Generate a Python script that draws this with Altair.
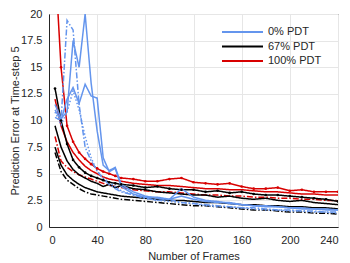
import altair as alt
import pandas as pd

frames = [5, 10, 15, 20, 25, 30, 35, 40, 45, 50, 55, 60, 70, 80, 90, 100,
          110, 120, 130, 140, 150, 160, 170, 180, 190, 200, 210, 220, 230, 240]

# 0% PDT (blue)
blue_a = [11.5, 10.2, 10.8, 17.5, 15.0, 20.0, 13.5, 9.0, 5.8, 5.3, 5.6, 4.0, 3.3, 2.9, 2.7, 2.6,
          3.6, 2.8, 2.5, 2.4, 2.2, 2.1, 2.0, 1.9, 1.9, 1.8, 1.8, 1.7, 1.7, 1.6]
blue_b = [11.0, 10.0, 12.0, 13.1, 11.6, 13.4, 12.3, 12.1, 6.5, 5.2, 5.5, 3.8, 3.1, 2.8, 2.8, 2.6,
          2.9, 2.6, 2.4, 2.3, 2.3, 2.1, 2.0, 2.0, 1.9, 1.8, 1.7, 1.7, 1.6, 1.6]
blue_c = [10.3, 10.0, 19.4, 18.5, 11.5, 7.5, 6.2, 5.3, 4.5, 4.0, 3.6, 3.3, 3.0, 2.7, 2.5, 2.6,
          2.3, 2.2, 2.1, 2.0, 1.9, 1.8, 1.8, 1.7, 1.6, 1.6, 1.5, 1.5, 1.4, 1.4]
blue_d = [10.8, 9.6, 10.8, 12.8, 11.0, 8.5, 6.5, 5.2, 4.6, 4.2, 3.8, 3.4, 3.0, 2.7, 2.5, 2.4,
          2.3, 2.2, 2.0, 1.9, 1.9, 1.8, 1.7, 1.6, 1.6, 1.5, 1.5, 1.4, 1.4, 1.3]

# 67% PDT (black)
black_a = [13.0, 10.0, 7.8, 6.3, 5.6, 5.1, 4.8, 4.6, 4.4, 4.2, 4.1, 4.0, 3.9, 3.7, 3.8, 3.6,
           3.5, 3.5, 3.3, 3.4, 3.2, 3.3, 3.1, 3.0, 3.0, 2.9, 2.8, 2.7, 2.6, 2.4]
black_b = [9.5, 7.5, 6.2, 5.4, 4.9, 4.6, 4.3, 4.1, 3.8, 4.0, 3.7, 3.9, 3.6, 3.5, 3.3, 3.2,
           3.1, 3.0, 3.0, 2.8, 2.9, 2.7, 2.6, 2.7, 2.5, 2.4, 2.5, 2.3, 2.2, 2.1]
black_c = [7.5, 5.8, 4.9, 4.4, 4.0, 3.7, 3.5, 3.3, 3.2, 3.1, 3.0, 2.9, 2.8, 2.7, 2.6, 2.5,
           2.5, 2.4, 2.3, 2.3, 2.2, 2.1, 2.1, 2.0, 2.0, 1.9, 1.9, 1.8, 1.8, 1.7]
black_d = [7.0, 5.2, 4.4, 4.0, 3.6, 3.3, 3.1, 3.0, 2.9, 2.8, 2.7, 2.6, 2.5, 2.4, 2.3, 2.2,
           2.1, 2.0, 2.0, 1.9, 1.8, 1.7, 1.6, 1.6, 1.5, 1.4, 1.4, 1.3, 1.3, 1.2]

# 100% PDT (red)
red_a = [25.0, 15.0, 9.5, 8.0, 7.0, 6.4, 5.9, 5.5, 5.2, 5.0, 4.8, 4.6, 4.5, 4.3, 4.3, 4.5,
         4.6, 4.2, 4.1, 4.0, 4.1, 3.8, 3.6, 3.6, 3.7, 3.4, 3.5, 3.3, 3.3, 3.3]
red_b = [12.0, 9.5, 8.0, 7.0, 6.3, 5.7, 5.3, 5.0, 4.7, 4.5, 4.4, 4.3, 4.1, 4.0, 3.9, 3.9,
         3.8, 3.7, 3.6, 3.6, 3.5, 3.5, 3.4, 3.3, 3.3, 3.2, 3.1, 3.1, 3.0, 3.0]
red_c = [8.5, 6.2, 5.6, 5.2, 4.9, 4.7, 4.5, 4.3, 4.1, 3.9, 3.8, 3.7, 3.5, 3.4, 3.3, 3.3,
         3.2, 3.1, 3.0, 3.0, 2.9, 2.9, 2.8, 2.8, 2.7, 2.7, 2.6, 2.6, 2.5, 2.5]

groups = ["0% PDT", "67% PDT", "100% PDT"]
colors = ["#6495ED", "#000000", "#D80000"]

series = [
    ("100% PDT", "red_a", "solid", red_a),
    ("100% PDT", "red_b", "solid", red_b),
    ("100% PDT", "red_c", "dashdot", red_c),
    ("67% PDT", "black_a", "solid", black_a),
    ("67% PDT", "black_b", "solid", black_b),
    ("67% PDT", "black_c", "solid", black_c),
    ("67% PDT", "black_d", "dashdot", black_d),
    ("0% PDT", "blue_a", "solid", blue_a),
    ("0% PDT", "blue_b", "solid", blue_b),
    ("0% PDT", "blue_c", "dashdot", blue_c),
    ("0% PDT", "blue_d", "dotted", blue_d),
]

rows = []
for grp, name, style, vals in series:
    for f, v in zip(frames, vals):
        rows.append({"frame": f, "err": v, "group": grp, "series": name, "style": style})
df = pd.DataFrame(rows)

FONT = "Liberation Sans"
TXT = "#262626"

x = alt.X("frame:Q", scale=alt.Scale(domain=[0, 240], nice=False),
          axis=alt.Axis(values=[0, 40, 80, 120, 160, 200, 240], title="Number of Frames",
                        labelPadding=7, titlePadding=5))
y = alt.Y("err:Q", scale=alt.Scale(domain=[0, 20], nice=False),
          axis=alt.Axis(values=[0, 2.5, 5, 7.5, 10, 12.5, 15, 17.5, 20],
                        labelExpr="format(datum.value, '.3~g')",
                        title="Prediction Error at Time-step 5", labelPadding=7, titlePadding=0))

lines = alt.Chart(df).mark_line(strokeWidth=1.5, clip=True).encode(
    x=x, y=y,
    color=alt.Color("group:N", scale=alt.Scale(domain=groups, range=colors),
                    legend=alt.Legend(title=None, orient="none", legendX=172, legendY=11,
                                      symbolType="stroke", symbolSize=1681, symbolStrokeWidth=2,
                                      clipHeight=14, rowPadding=0.5, labelFontSize=11,
                                      labelFont=FONT, labelColor=TXT, labelOffset=4, padding=0)),
    strokeDash=alt.StrokeDash("style:N",
                              scale=alt.Scale(domain=["solid", "dashdot", "dotted"],
                                              range=[[1, 0], [6, 2, 1.5, 2], [1.5, 2]]),
                              legend=None),
    detail="series:N",
)

pts_red = alt.Chart(df).transform_filter(alt.datum.series == "red_a").mark_point(
    filled=True, size=7, color="#D80000", opacity=1, clip=True).encode(x=x, y=y)
pts_black = alt.Chart(df).transform_filter(alt.datum.series == "black_a").mark_point(
    filled=True, size=7, color="#000000", opacity=1, clip=True).encode(x=x, y=y)

chart = alt.layer(lines, pts_red, pts_black).properties(
    width=289, height=213,
    autosize=alt.AutoSizeParams(type="none"),
    padding={"left": 41, "top": 6, "right": 4, "bottom": 36},
).configure_view(stroke=TXT, strokeWidth=1).configure_axis(
    grid=True, gridColor="#e6e6e6", gridWidth=1, domain=True, domainColor=TXT,
    ticks=False, tickSize=0, labelFont=FONT, labelFontSize=11, labelColor=TXT,
    titleFont=FONT, titleFontSize=11, titleFontWeight="normal", titleColor=TXT,
)

chart.save("out.html", embed_options={"renderer": "svg", "actions": False})
